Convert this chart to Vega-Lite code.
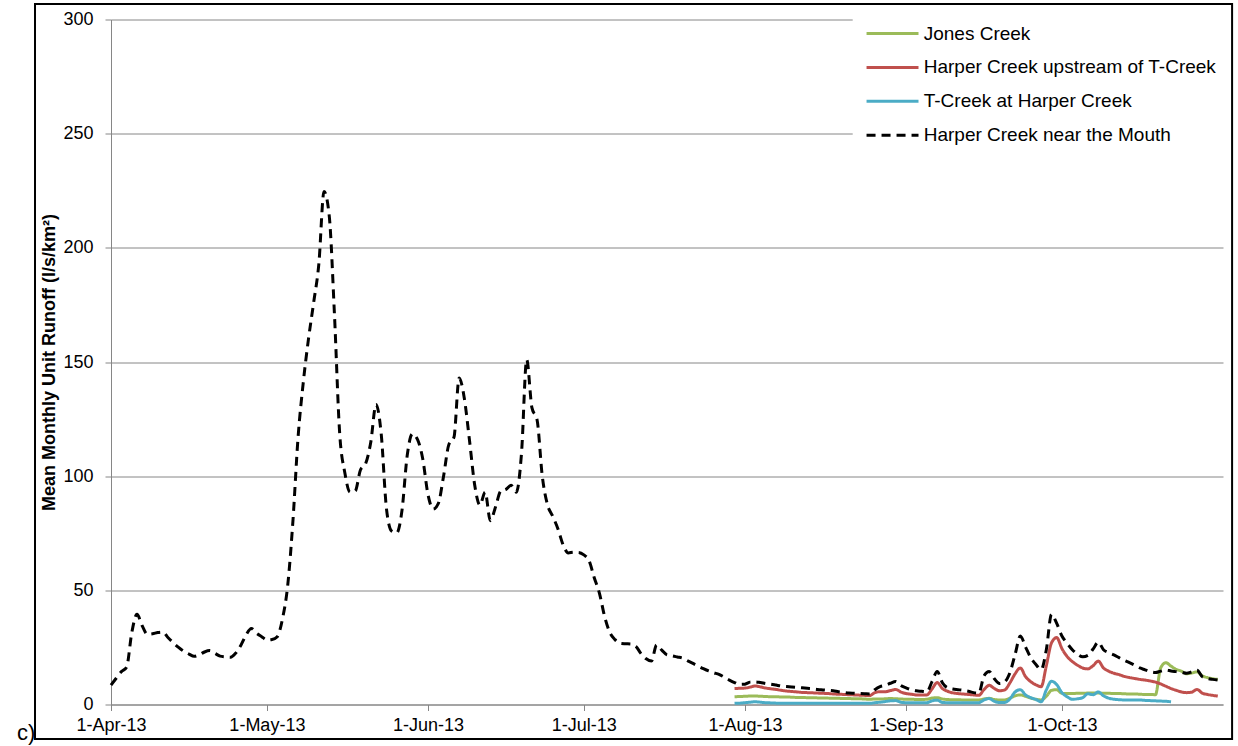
{
  "$schema": "https://vega.github.io/schema/vega-lite/v6.json",
  "width": 1112,
  "height": 685,
  "autosize": {"type": "none"},
  "padding": {"left": 111, "top": 19.5, "right": 15, "bottom": 41.5},
  "background": "white",
  "config": {"view": {"stroke": null}, "font": "Liberation Sans"},
  "data": {
    "format": {"parse": {"d": "date:'%Y-%m-%d'"}},
    "values": [
      {"d":"2013-04-01","M":8.5},{"d":"2013-04-02","M":11.5},{"d":"2013-04-03","M":14.4},{"d":"2013-04-04","M":16.3},{"d":"2013-04-05","M":31.5},
      {"d":"2013-04-06","M":39.5},{"d":"2013-04-07","M":34.5},{"d":"2013-04-08","M":30.8},{"d":"2013-04-09","M":31.0},{"d":"2013-04-10","M":31.5},
      {"d":"2013-04-11","M":31.7},{"d":"2013-04-12","M":29.2},{"d":"2013-04-13","M":27.0},{"d":"2013-04-14","M":25.0},{"d":"2013-04-15","M":23.3},
      {"d":"2013-04-16","M":22.1},{"d":"2013-04-17","M":21.1},{"d":"2013-04-18","M":21.8},{"d":"2013-04-19","M":23.0},{"d":"2013-04-20","M":23.6},
      {"d":"2013-04-21","M":22.4},{"d":"2013-04-22","M":21.2},{"d":"2013-04-23","M":20.9},{"d":"2013-04-24","M":20.7},{"d":"2013-04-25","M":22.5},
      {"d":"2013-04-26","M":26.0},{"d":"2013-04-27","M":30.5},{"d":"2013-04-28","M":33.3},{"d":"2013-04-29","M":31.2},{"d":"2013-04-30","M":29.7},
      {"d":"2013-05-01","M":28.3},{"d":"2013-05-02","M":28.5},{"d":"2013-05-03","M":29.7},{"d":"2013-05-04","M":37.5},{"d":"2013-05-05","M":52},
      {"d":"2013-05-06","M":80},{"d":"2013-05-07","M":117},{"d":"2013-05-08","M":141},{"d":"2013-05-09","M":160},{"d":"2013-05-10","M":176},
      {"d":"2013-05-11","M":193},{"d":"2013-05-12","M":224.7},{"d":"2013-05-13","M":214},{"d":"2013-05-14","M":171},{"d":"2013-05-15","M":119},
      {"d":"2013-05-16","M":101.5},{"d":"2013-05-17","M":93},{"d":"2013-05-18","M":93.5},{"d":"2013-05-19","M":102.7},{"d":"2013-05-20","M":105.5},
      {"d":"2013-05-21","M":115},{"d":"2013-05-22","M":131.4},{"d":"2013-05-23","M":118.5},{"d":"2013-05-24","M":86},{"d":"2013-05-25","M":76},
      {"d":"2013-05-26","M":75.2},{"d":"2013-05-27","M":85},{"d":"2013-05-28","M":109},{"d":"2013-05-29","M":118.5},{"d":"2013-05-30","M":116},
      {"d":"2013-05-31","M":107.5},
      {"d":"2013-06-01","M":92},{"d":"2013-06-02","M":85.6},{"d":"2013-06-03","M":88.1},{"d":"2013-06-04","M":100},{"d":"2013-06-05","M":113.7},
      {"d":"2013-06-06","M":117},{"d":"2013-06-07","M":143},{"d":"2013-06-08","M":134},{"d":"2013-06-09","M":115.5},{"d":"2013-06-10","M":96},
      {"d":"2013-06-11","M":87.4},{"d":"2013-06-12","M":93},{"d":"2013-06-13","M":80.5},{"d":"2013-06-14","M":86.5},{"d":"2013-06-15","M":93.5},
      {"d":"2013-06-16","M":94.2},{"d":"2013-06-17","M":96},{"d":"2013-06-18","M":93},{"d":"2013-06-19","M":110},{"d":"2013-06-20","M":151},
      {"d":"2013-06-21","M":130},{"d":"2013-06-22","M":124.6},{"d":"2013-06-23","M":100},{"d":"2013-06-24","M":87.5},{"d":"2013-06-25","M":82.5},
      {"d":"2013-06-26","M":77},{"d":"2013-06-27","M":70},{"d":"2013-06-28","M":66.4},{"d":"2013-06-29","M":66.7},{"d":"2013-06-30","M":66.6},
      {"d":"2013-07-01","M":65.5},{"d":"2013-07-02","M":63},{"d":"2013-07-03","M":55.5},{"d":"2013-07-04","M":48.7},{"d":"2013-07-05","M":38.5},
      {"d":"2013-07-06","M":31.5},{"d":"2013-07-07","M":28.4},{"d":"2013-07-08","M":26.8},{"d":"2013-07-09","M":26.6},{"d":"2013-07-10","M":26.5},
      {"d":"2013-07-11","M":25.5},{"d":"2013-07-12","M":22.3},{"d":"2013-07-13","M":20.0},{"d":"2013-07-14","M":19.0},{"d":"2013-07-15","M":26.1},
      {"d":"2013-07-16","M":23.8},{"d":"2013-07-17","M":21.7},{"d":"2013-07-18","M":21.3},{"d":"2013-07-19","M":20.8},{"d":"2013-07-20","M":20.3},
      {"d":"2013-07-21","M":19.1},{"d":"2013-07-22","M":18.0},{"d":"2013-07-23","M":16.8},{"d":"2013-07-24","M":15.7},{"d":"2013-07-25","M":14.7},
      {"d":"2013-07-26","M":13.9},{"d":"2013-07-27","M":13.2},{"d":"2013-07-28","M":12.0},{"d":"2013-07-29","M":10.7},
      {"d":"2013-07-30","M":9.6,"J":3.4,"H":7.0,"T":0.5},
      {"d":"2013-07-31","M":8.8,"J":3.5,"H":7.1,"T":0.6},
      {"d":"2013-08-01","M":8.9,"J":3.6,"H":7.2,"T":0.8},
      {"d":"2013-08-02","M":9.8,"J":3.7,"H":7.6,"T":1.0},
      {"d":"2013-08-03","M":9.9,"J":3.7,"H":8.1,"T":1.2},
      {"d":"2013-08-04","M":9.6,"J":3.6,"H":7.7,"T":1.0},
      {"d":"2013-08-05","M":9.2,"J":3.5,"H":7.2,"T":0.8},
      {"d":"2013-08-06","M":8.9,"J":3.4,"H":6.9,"T":0.7},
      {"d":"2013-08-07","M":8.5,"J":3.4,"H":6.6,"T":0.6},
      {"d":"2013-08-08","M":8.1,"J":3.3,"H":6.2,"T":0.6},
      {"d":"2013-08-09","M":7.9,"J":3.3,"H":5.9,"T":0.5},
      {"d":"2013-08-10","M":7.7,"J":3.2,"H":5.7,"T":0.5},
      {"d":"2013-08-11","M":7.5,"J":3.1,"H":5.5,"T":0.5},
      {"d":"2013-08-12","M":7.3,"J":3.1,"H":5.3,"T":0.5},
      {"d":"2013-08-13","M":7.1,"J":3.0,"H":5.2,"T":0.5},
      {"d":"2013-08-14","M":6.9,"J":3.0,"H":5.1,"T":0.5},
      {"d":"2013-08-15","M":6.6,"J":2.9,"H":5.0,"T":0.5},
      {"d":"2013-08-16","M":6.4,"J":2.9,"H":4.9,"T":0.5},
      {"d":"2013-08-17","M":6.2,"J":2.8,"H":4.8,"T":0.5},
      {"d":"2013-08-18","M":6.0,"J":2.7,"H":4.6,"T":0.5},
      {"d":"2013-08-19","M":5.6,"J":2.7,"H":4.5,"T":0.5},
      {"d":"2013-08-20","M":5.3,"J":2.6,"H":4.4,"T":0.5},
      {"d":"2013-08-21","M":5.0,"J":2.6,"H":4.3,"T":0.5},
      {"d":"2013-08-22","M":4.9,"J":2.5,"H":4.2,"T":0.5},
      {"d":"2013-08-23","M":4.8,"J":2.5,"H":4.1,"T":0.5},
      {"d":"2013-08-24","M":4.7,"J":2.4,"H":4.0,"T":0.5},
      {"d":"2013-08-25","M":4.6,"J":2.3,"H":3.9,"T":0.5},
      {"d":"2013-08-26","M":6.5,"J":2.4,"H":5.2,"T":0.8},
      {"d":"2013-08-27","M":7.8,"J":2.4,"H":5.6,"T":1.0},
      {"d":"2013-08-28","M":8.4,"J":2.5,"H":5.6,"T":1.3},
      {"d":"2013-08-29","M":9.3,"J":2.6,"H":6.1,"T":1.6},
      {"d":"2013-08-30","M":10.1,"J":2.5,"H":6.6,"T":1.7},
      {"d":"2013-08-31","M":8.3,"J":2.4,"H":5.5,"T":1.0},
      {"d":"2013-09-01","M":7.3,"J":2.3,"H":4.8,"T":0.8},
      {"d":"2013-09-02","M":6.5,"J":2.3,"H":4.5,"T":0.8},
      {"d":"2013-09-03","M":6.0,"J":2.2,"H":4.2,"T":0.8},
      {"d":"2013-09-04","M":5.8,"J":2.2,"H":4.2,"T":0.8},
      {"d":"2013-09-05","M":5.6,"J":2.3,"H":4.2,"T":0.8},
      {"d":"2013-09-06","M":10.0,"J":2.8,"H":6.8,"T":1.6},
      {"d":"2013-09-07","M":14.5,"J":3.0,"H":9.6,"T":1.9},
      {"d":"2013-09-08","M":9.5,"J":2.4,"H":7.0,"T":0.9},
      {"d":"2013-09-09","M":7.3,"J":2.2,"H":5.8,"T":0.8},
      {"d":"2013-09-10","M":6.8,"J":2.1,"H":5.1,"T":0.8},
      {"d":"2013-09-11","M":6.5,"J":2.1,"H":4.8,"T":0.8},
      {"d":"2013-09-12","M":6.2,"J":2.0,"H":4.6,"T":0.8},
      {"d":"2013-09-13","M":5.8,"J":2.0,"H":4.4,"T":0.8},
      {"d":"2013-09-14","M":5.2,"J":2.0,"H":4.2,"T":0.8},
      {"d":"2013-09-15","M":5.0,"J":2.0,"H":4.0,"T":0.8},
      {"d":"2013-09-16","M":12.5,"J":2.4,"H":6.5,"T":2.0},
      {"d":"2013-09-17","M":14.5,"J":2.7,"H":8.4,"T":2.6},
      {"d":"2013-09-18","M":11.3,"J":2.2,"H":7.0,"T":1.4},
      {"d":"2013-09-19","M":9.2,"J":2.0,"H":6.0,"T":0.9},
      {"d":"2013-09-20","M":10.0,"J":2.0,"H":6.4,"T":0.9},
      {"d":"2013-09-21","M":14.0,"J":2.8,"H":9.5,"T":2.5},
      {"d":"2013-09-22","M":22.0,"J":3.8,"H":13.5,"T":5.5},
      {"d":"2013-09-23","M":30.0,"J":4.2,"H":16.0,"T":6.5},
      {"d":"2013-09-24","M":25.2,"J":3.6,"H":12.2,"T":4.2},
      {"d":"2013-09-25","M":20.5,"J":2.8,"H":10.0,"T":3.0},
      {"d":"2013-09-26","M":17.5,"J":2.3,"H":8.6,"T":2.2},
      {"d":"2013-09-27","M":15.3,"J":2.0,"H":7.8,"T":1.2},
      {"d":"2013-09-28","M":24.0,"J":3.6,"H":17.0,"T":6.4},
      {"d":"2013-09-29","M":39.5,"J":6.2,"H":27.0,"T":10.2},
      {"d":"2013-09-30","M":35.5,"J":6.5,"H":29.3,"T":8.7},
      {"d":"2013-10-01","M":30.0,"J":4.9,"H":24.5,"T":5.2},
      {"d":"2013-10-02","M":26.8,"J":4.8,"H":21.0,"T":3.4},
      {"d":"2013-10-03","M":24.0,"J":4.8,"H":18.8,"T":2.3},
      {"d":"2013-10-04","M":22.0,"J":4.9,"H":17.2,"T":2.5},
      {"d":"2013-10-05","M":20.9,"J":4.9,"H":16.0,"T":3.0},
      {"d":"2013-10-06","M":21.5,"J":5.0,"H":15.6,"T":4.7},
      {"d":"2013-10-07","M":24.3,"J":5.0,"H":17.0,"T":4.3},
      {"d":"2013-10-08","M":27.3,"J":5.0,"H":19.0,"T":5.5},
      {"d":"2013-10-09","M":24.0,"J":4.9,"H":16.0,"T":3.8},
      {"d":"2013-10-10","M":22.7,"J":4.9,"H":14.6,"T":2.8},
      {"d":"2013-10-11","M":21.7,"J":4.8,"H":13.7,"T":2.3},
      {"d":"2013-10-12","M":20.5,"J":4.8,"H":13.1,"T":2.1},
      {"d":"2013-10-13","M":19.3,"J":4.7,"H":12.3,"T":2.0},
      {"d":"2013-10-14","M":18.3,"J":4.6,"H":11.8,"T":2.0},
      {"d":"2013-10-15","M":17.2,"J":4.6,"H":11.4,"T":2.0},
      {"d":"2013-10-16","M":16.0,"J":4.5,"H":11.0,"T":2.0},
      {"d":"2013-10-17","M":15.2,"J":4.4,"H":10.7,"T":1.8},
      {"d":"2013-10-18","M":14.4,"J":4.4,"H":10.3,"T":1.7},
      {"d":"2013-10-19","M":14.0,"J":4.3,"H":9.8,"T":1.6},
      {"d":"2013-10-20","M":14.6,"J":16.0,"H":9.0,"T":1.5},
      {"d":"2013-10-21","M":15.1,"J":18.3,"H":8.0,"T":1.4},
      {"d":"2013-10-22","M":14.7,"J":16.8,"H":7.0,"T":1.2},
      {"d":"2013-10-23","M":14.4,"J":15.4,"H":6.2},
      {"d":"2013-10-24","M":14.1,"J":14.6,"H":5.5},
      {"d":"2013-10-25","M":13.7,"J":13.5,"H":5.2},
      {"d":"2013-10-26","M":14.3,"J":13.8,"H":5.4},
      {"d":"2013-10-27","M":15.0,"J":14.3,"H":6.6},
      {"d":"2013-10-28","M":12.2,"J":12.6,"H":5.0},
      {"d":"2013-10-29","M":11.4,"J":11.8,"H":4.4},
      {"d":"2013-10-30","M":11.0,"J":11.3,"H":4.0},
      {"d":"2013-10-31","M":10.7,"J":11.0,"H":3.7}
    ]
  },
  "layer": [
    {
      "data": {"values": [{}]},
      "mark": {"type": "rect", "fill": "transparent", "stroke": "black", "strokeWidth": 2, "clip": false},
      "encoding": {
        "x": {
          "datum": {"year": 2013, "month": 3, "date": 17, "hours": 9}, "type": "temporal",
          "scale": {"domain": [{"year": 2013, "month": 4, "date": 1}, {"year": 2013, "month": 11, "date": 1}]},
          "axis": {
            "values": [
              {"year": 2013, "month": 4, "date": 1}, {"year": 2013, "month": 5, "date": 1}, {"year": 2013, "month": 6, "date": 1},
              {"year": 2013, "month": 7, "date": 1}, {"year": 2013, "month": 8, "date": 1}, {"year": 2013, "month": 9, "date": 1},
              {"year": 2013, "month": 10, "date": 1}
            ],
            "format": "%-d-%b-%y", "title": null, "grid": false,
            "labelFontSize": 18, "labelFont": "Liberation Sans", "labelColor": "black",
            "labelPadding": 6, "labelFlush": false, "labelOverlap": false,
            "tickSize": 6, "tickColor": "#868686", "domainColor": "#868686", "domainWidth": 1
          }
        },
        "x2": {"datum": {"year": 2013, "month": 11, "date": 2, "hours": 18}},
        "y": {
          "datum": 306.8, "type": "quantitative",
          "scale": {"domain": [0, 300], "nice": false, "zero": true},
          "axis": {
            "values": [0, 50, 100, 150, 200, 250, 300],
            "title": "Mean Monthly Unit Runoff (l/s/km²)",
            "titleFontSize": 18, "titleFont": "Liberation Sans", "titleFontWeight": "bold", "titleColor": "black",
            "titleX": -57, "titleY": 342.5, "titleAngle": 270, "titleBaseline": "alphabetic", "titleAlign": "center",
            "labelFontSize": 18, "labelFont": "Liberation Sans", "labelColor": "black", "labelPadding": 12,
            "tickSize": 6, "tickColor": "#868686", "domainColor": "#868686",
            "grid": true, "gridColor": "#868686", "gridWidth": 1
          }
        },
        "y2": {"datum": -15.1}
      }
    },
    {
      "data": {"values": [{"t": "c)"}]},
      "mark": {"type": "text", "align": "left", "baseline": "alphabetic", "fontSize": 22, "font": "Liberation Sans", "color": "black", "clip": false},
      "encoding": {
        "x": {"datum": {"year": 2013, "month": 3, "date": 13, "hours": 22}, "type": "temporal"},
        "y": {"datum": -15.5, "type": "quantitative"},
        "text": {"field": "t"}
      }
    },
    {
      "transform": [
        {"fold": ["J", "H", "T", "M"], "as": ["key", "value"]},
        {"filter": "isValid(datum.value)"},
        {"filter": "datum.key != 'M'"},
        {"lookup": "key", "from": {"data": {"values": [
          {"key": "J", "name": "Jones Creek"},
          {"key": "H", "name": "Harper Creek upstream of T-Creek"},
          {"key": "T", "name": "T-Creek at Harper Creek"},
          {"key": "M", "name": "Harper Creek near the Mouth"}
        ]}, "key": "key", "fields": ["name"]}}
      ],
      "mark": {"type": "line", "strokeWidth": 3, "interpolate": "monotone"},
      "encoding": {
        "x": {"field": "d", "type": "temporal"},
        "y": {"field": "value", "type": "quantitative"},
        "color": {
          "field": "name", "type": "nominal",
          "scale": {
            "domain": ["Jones Creek", "Harper Creek upstream of T-Creek", "T-Creek at Harper Creek", "Harper Creek near the Mouth"],
            "range": ["#9BBB59", "#C0504D", "#4BACC6", "#000000"]
          },
          "legend": {
            "title": null, "orient": "none", "legendX": 741.7, "legendY": -8.5,
            "fillColor": "white", "padding": 12,
            "symbolType": "M-1,0H5", "symbolSize": 300, "symbolStrokeWidth": 3,
            "labelFontSize": 19, "labelFont": "Liberation Sans", "labelColor": "black",
            "labelOffset": 38, "rowPadding": 12.9, "labelLimit": 400
          }
        },
        "strokeDash": {
          "field": "name", "type": "nominal",
          "scale": {
            "domain": ["Jones Creek", "Harper Creek upstream of T-Creek", "T-Creek at Harper Creek", "Harper Creek near the Mouth"],
            "range": [[1, 0], [1, 0], [1, 0], [9, 6]]
          },
          "legend": {
            "title": null, "orient": "none", "legendX": 741.7, "legendY": -8.5,
            "fillColor": "white", "padding": 12,
            "symbolType": "M-1,0H5", "symbolSize": 300, "symbolStrokeWidth": 3,
            "labelFontSize": 19, "labelFont": "Liberation Sans", "labelColor": "black",
            "labelOffset": 38, "rowPadding": 12.9, "labelLimit": 400
          }
        }
      }
    },
    {
      "transform": [
        {"fold": ["J", "H", "T", "M"], "as": ["key", "value"]},
        {"filter": "isValid(datum.value)"},
        {"filter": "datum.key == 'M'"},
        {"lookup": "key", "from": {"data": {"values": [
          {"key": "J", "name": "Jones Creek"},
          {"key": "H", "name": "Harper Creek upstream of T-Creek"},
          {"key": "T", "name": "T-Creek at Harper Creek"},
          {"key": "M", "name": "Harper Creek near the Mouth"}
        ]}, "key": "key", "fields": ["name"]}}
      ],
      "mark": {"type": "line", "strokeWidth": 3, "interpolate": "monotone", "strokeCap": "butt"},
      "encoding": {
        "x": {"field": "d", "type": "temporal"},
        "y": {"field": "value", "type": "quantitative"},
        "color": {"field": "name", "type": "nominal"},
        "strokeDash": {"field": "name", "type": "nominal"}
      }
    }
  ]
}
